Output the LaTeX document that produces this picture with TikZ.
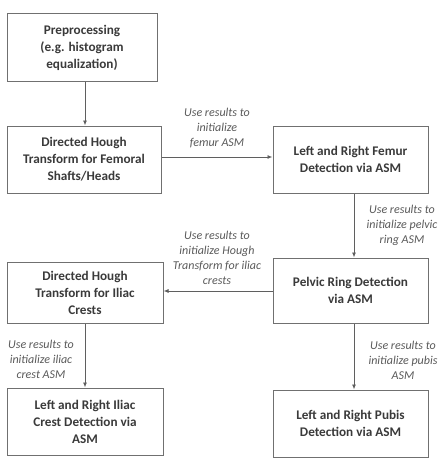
\documentclass[tikz,border=0pt]{standalone}
\usepackage{fontspec}
\setmainfont{Carlito}
\usetikzlibrary{arrows.meta}
\definecolor{boxline}{HTML}{707070}
\definecolor{boxtext}{HTML}{3A3A3A}
\definecolor{labtext}{HTML}{5A5A5A}
\begin{document}
\begin{tikzpicture}[x=1pt,y=-1pt,
  stepbox/.style={draw=boxline,line width=1pt,fill=white,rectangle,align=center,
    text=boxtext,font=\fontsize{13.2}{17}\selectfont\bfseries,inner sep=2pt},
  arr/.style={draw=boxline!85!black,line width=0.9pt,-{Latex[length=5pt,width=4pt]}},
  lab/.style={align=center,text=labtext,font=\fontsize{12}{15}\selectfont\itshape,inner sep=0pt}]
\useasboundingbox (0,0) rectangle (442,460);
\fill[white] (0,0) rectangle (442,460);
\node[stepbox,minimum width=150pt,minimum height=67pt] (b1) at (82,47.5) {Preprocessing\\(e.g. histogram\\equalization)};
\node[stepbox,minimum width=154pt,minimum height=67pt] (b2) at (84,159.5) {Directed Hough\\Transform for Femoral\\Shafts/Heads};
\node[stepbox,minimum width=155pt,minimum height=67pt] (b3) at (350.5,159.5) {Left and Right Femur\\Detection via ASM};
\node[stepbox,minimum width=155pt,minimum height=65pt] (b4) at (350.5,290.5) {Pelvic Ring Detection\\via ASM};
\node[stepbox,minimum width=156pt,minimum height=61pt] (b5) at (85,292.5) {Directed Hough\\Transform for Iliac\\Crests};
\node[stepbox,minimum width=156pt,minimum height=67pt] (b6) at (85,421.5) {Left and Right Iliac\\Crest Detection via\\ASM};
\node[stepbox,minimum width=155pt,minimum height=67pt] (b7) at (350.5,423.5) {Left and Right Pubis\\Detection via ASM};
\coordinate (xa) at (85,0);
\coordinate (xb) at (354,0);
\coordinate (ya) at (0,157);
\coordinate (yb) at (0,291);
\draw[arr] (b1.south -| xa) -- (b2.north -| xa);
\draw[arr] (b2.east |- ya) -- (b3.west |- ya);
\draw[arr] (b3.south -| xb) -- (b4.north -| xb);
\draw[arr] (b4.west |- yb) -- (b5.east |- yb);
\draw[arr] (b5.south -| xa) -- (b6.north -| xa);
\draw[arr] (b4.south -| xb) -- (b7.north -| xb);
\node[lab] (l1) at (217,128) {Use results to\\initialize\\femur ASM};
\node[lab] (l2) at (402,225) {Use results to\\initialize pelvic\\ring ASM};
\node[lab] (l3) at (217,257.5) {Use results to\\initialize Hough\\Transform for iliac\\crests};
\node[lab] (l4) at (41,359) {Use results to\\initialize iliac\\crest ASM};
\node[lab] (l5) at (403,360) {Use results to\\initialize pubis\\ASM};
\end{tikzpicture}
\end{document}
